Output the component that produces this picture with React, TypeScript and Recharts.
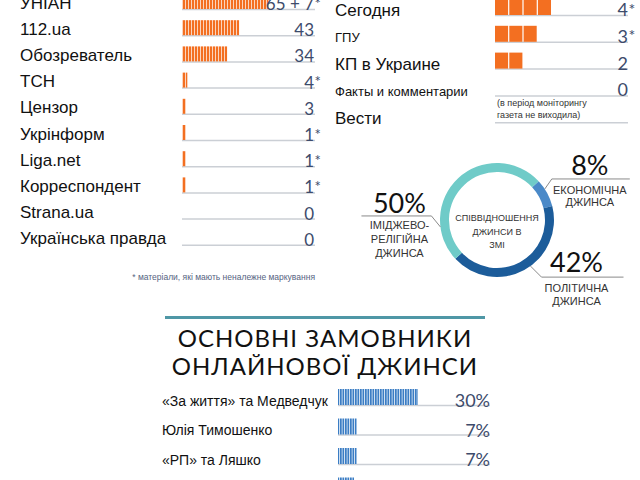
import React from "react";
import { BarChart, Bar, XAxis, YAxis, PieChart, Pie, Cell, LabelList } from "recharts";

const FONT = "'Liberation Sans', Arial, sans-serif";
const NUM_FONT = "Lato, 'Open Sans', sans-serif";
const ORANGE = "#f36f21";
const BLUE = "#3b7dc4";
const SLATE = "#3d4b6b";
const RULE = "#cbcfd5";

// online media: materials found
const onlineOutlets = ["УНІАН", "112.ua", "Обозреватель", "ТСН", "Цензор", "Укрінформ", "Liga.net", "Корреспондент", "Strana.ua", "Українська правда"];
const onlineCounts = [65, 43, 34, 4, 3, 1, 1, 1, 0, 0];
const onlineExtra = [7, 0, 0, 0, 0, 0, 0, 0, 0, 0];
const onlineMarked = [true, false, false, true, false, true, true, true, false, false];

// newspapers (Вести did not come out during monitoring)
const paperNames = ["Сегодня", "ГПУ", "КП в Украине", "Факты и комментарии", "Вести"];
const paperCounts = [4, 3, 2, 0, null];
const paperMarked = [true, true, false, false, false];
const paperNotes = [[], [], [], [], ["(в період моніторингу", "газета не виходила)"]];

// jeans by type
const jeansTypes = ["економічна", "політична", "іміджево-релігійна"];
const jeansShares = [8, 42, 50];
const jeansCaptions = [["ЕКОНОМІЧНА", "ДЖИНСА"], ["ПОЛІТИЧНА", "ДЖИНСА"], ["ІМІДЖЕВО-", "РЕЛІГІЙНА", "ДЖИНСА"]];
const jeansColors = ["#4a89c8", "#1c5c9a", "#6fcbc8"];
const centerCaption = ["СПІВВІДНОШЕННЯ", "ДЖИНСИ В", "ЗМІ"];

// main clients
const clients = ["«За життя» та Медведчук", "Юлія Тимошенко", "«РП» та Ляшко", ""];
const clientShares = [30, 7, 7, 6];

const paperLabelSize: Record<string, number> = { "ГПУ": 13, "Факты и комментарии": 13 };

const onlineData = onlineOutlets.map((name, i) => ({ name, count: onlineCounts[i] }));
const paperData = paperNames.map((name, i) => ({ name, count: paperCounts[i] ?? 0 }));
const jeansData = jeansTypes.map((name, i) => ({ name, value: jeansShares[i] }));
const clientData = clients.map((name, i) => ({ name, share: clientShares[i] }));

const Baseline = (right: number) => (props: any) => {
  const { x, y, height } = props;
  const yy = Number(y) + Number(height) + 0.5;
  return <line x1={x} x2={right} y1={yy} y2={yy} stroke={RULE} strokeWidth={1.5} />;
};

const leftTick = (x: number, dy: number, size: (name: string) => number) => (props: any) => {
  const { y, payload } = props;
  return (
    <text x={x} y={Number(y) + dy} dominantBaseline="central" fontSize={size(payload.value)} fontFamily={FONT} fill="#111">
      {payload.value}
    </text>
  );
};

const valueText = (right: number, dy: number, fontSize: number, getText: (i: number) => string, marked: (i: number) => boolean) =>
  (props: any) => {
    const { y, height, index } = props;
    const cy = Number(y) + Number(height) / 2 + dy;
    const txt = getText(index);
    if (!txt) return null;
    return (
      <g>
        <text x={right} y={cy} textAnchor="end" dominantBaseline="central" fontSize={fontSize} fontFamily={NUM_FONT} fill={SLATE}>
          {txt}
        </text>
        {marked(index) && (
          <text x={right + 0.5} y={cy - 1} dominantBaseline="central" fontSize={fontSize - 2} fontFamily={NUM_FONT} fill={SLATE}>
            *
          </text>
        )}
      </g>
    );
  };

// striped bar; a single item still shows as one visible stripe
const StripeBar = (fill: string, minW: number) => (props: any) => {
  const { x, y, width, height, payload } = props;
  const v = Number(payload?.count ?? payload?.share ?? 0);
  if (!v) return null;
  const w = Math.max(Number(width) || 0, minW);
  return <rect x={x} y={y} width={w} height={height} fill={fill} />;
};

const BlockBar = (props: any) => {
  const { x, y, width, height, payload } = props;
  const n = Number(payload?.count) || 0;
  if (!n || !width) return null;
  const unit = width / n;
  return (
    <g>
      {Array.from({ length: n }, (_, k) => (
        <rect key={k} x={x + k * unit} y={y} width={unit - 1.2} height={height} fill={ORANGE} />
      ))}
    </g>
  );
};

const PaperExtras = (props: any) => {
  const { x, y, height, index } = props;
  const lines = paperNotes[index];
  if (!lines || !lines.length) return null;
  const bottom = Number(y) + Number(height);
  return (
    <g>
      {lines.map((l, k) => (
        <text key={k} x={Number(x) + 2} y={bottom - 19 + k * 11.5} dominantBaseline="central" fontSize={9} fontFamily={FONT} fill="#333">
          {l}
        </text>
      ))}
    </g>
  );
};

const calloutLayout = [
  { angle: 33, elbow: [7, -10], run: 78, textDx: 38, pctDy: -14, capDy: [11, 23] },
  { angle: -54, elbow: [11, 11], run: 82, textDx: 35, pctDy: -16, capDy: [11, 24] },
  { angle: 187, elbow: [-9, -11], run: -70, textDx: -32, pctDy: -13, capDy: [9, 23.5, 37] },
];

const renderCallout = (props: any) => {
  const { cx, cy, outerRadius, index, value } = props;
  const c = calloutLayout[index];
  const a = (c.angle * Math.PI) / 180;
  const sx = cx + outerRadius * Math.cos(a);
  const sy = cy - outerRadius * Math.sin(a);
  const ex = sx + c.elbow[0];
  const ey = sy + c.elbow[1];
  const tx = ex + c.textDx;
  return (
    <g key={`callout-${index}`}>
      {index === 0 &&
        centerCaption.map((l, k) => (
          <text key={`c${k}`} x={cx} y={cy - 2 + k * 13.5} textAnchor="middle" dominantBaseline="central" fontSize={9} fontFamily={FONT} fill="#333">
            {l}
          </text>
        ))}
      <polyline points={`${sx},${sy} ${ex},${ey} ${ex + c.run},${ey}`} fill="none" stroke="#8a8a8a" strokeWidth={1} />
      <text x={tx} y={ey + c.pctDy} textAnchor="middle" dominantBaseline="central" fontSize={27} fontWeight={400} fontFamily={NUM_FONT} fill="#111">
        {`${value}%`}
      </text>
      {jeansCaptions[index].map((line, k) => (
        <text key={k} x={tx} y={ey + c.capDy[k]} textAnchor="middle" dominantBaseline="central" fontSize={11} fontFamily={FONT} fill="#333">
          {line}
        </text>
      ))}
    </g>
  );
};

const abs = (left: number, top: number): React.CSSProperties => ({ position: "absolute", left, top });

const titleLine: React.CSSProperties = {
  position: "absolute",
  left: 150,
  width: 350,
  textAlign: "center",
  fontFamily: NUM_FONT,
  fontWeight: 400,
  fontSize: 24,
  lineHeight: "24px",
  letterSpacing: 1,
  color: "#111",
  whiteSpace: "nowrap",
};

export default function App() {
  return (
    <div style={{ position: "absolute", left: 0, top: 0, width: 640, height: 480, overflow: "hidden", background: "#fff" }}>
      {/* online outlets */}
      <div style={abs(0, -12)}>
        <BarChart width={330} height={262} layout="vertical" data={onlineData} margin={{ top: 0, right: 15, bottom: 0, left: 0 }}>
          <defs>
            <pattern id="orangeStripes" width={3} height={6} patternUnits="userSpaceOnUse">
              <rect x={0} y={0} width={2.3} height={6} fill={ORANGE} />
            </pattern>
          </defs>
          <XAxis type="number" domain={[0, 100]} hide />
          <YAxis type="category" dataKey="name" width={182} axisLine={false} tickLine={false} interval={0} tick={leftTick(20, 2, () => 17)} />
          <Bar
            dataKey="count"
            barSize={15}
            fill="url(#orangeStripes)"
            shape={StripeBar("url(#orangeStripes)", 4)}
            background={Baseline(315)}
            isAnimationActive={false}
          >
            <LabelList
              dataKey="name"
              content={valueText(
                314,
                2,
                17,
                (i) => (onlineExtra[i] ? `${onlineCounts[i]} + ${onlineExtra[i]}` : `${onlineCounts[i]}`),
                (i) => onlineMarked[i]
              )}
            />
          </Bar>
        </BarChart>
      </div>

      <div style={{ ...abs(0, 271), width: 315, textAlign: "right", fontSize: 8.5, lineHeight: "12px", fontFamily: FONT, color: "#55637f" }}>
        * матеріали, які мають неналежне маркування
      </div>

      {/* newspapers */}
      <div style={abs(330, -6)}>
        <BarChart width={310} height={134} layout="vertical" data={paperData} margin={{ top: 0, right: 12, bottom: 0, left: 0 }}>
          <XAxis type="number" domain={[0, 9.3]} hide />
          <YAxis
            type="category"
            dataKey="name"
            width={165}
            axisLine={false}
            tickLine={false}
            interval={0}
            tick={leftTick(5, 3.5, (n) => paperLabelSize[n] ?? 17)}
          />
          <Bar dataKey="count" barSize={16} fill={ORANGE} shape={BlockBar} background={Baseline(298)} isAnimationActive={false}>
            <LabelList
              dataKey="name"
              content={valueText(
                298,
                2,
                18,
                (i) => (paperCounts[i] === null ? "" : `${paperCounts[i]}`),
                (i) => paperMarked[i]
              )}
            />
            <LabelList dataKey="name" content={PaperExtras} />
          </Bar>
        </BarChart>
      </div>

      {/* jeans by type */}
      <div style={abs(330, 140)}>
        <PieChart width={310} height={170}>
          <Pie
            data={jeansData}
            dataKey="value"
            nameKey="name"
            cx={162}
            cy={75}
            innerRadius={48}
            outerRadius={57}
            startAngle={43}
            endAngle={-317}
            stroke="none"
            label={renderCallout}
            labelLine={false}
            isAnimationActive={false}
          >
            {jeansData.map((d, i) => (
              <Cell key={d.name} fill={jeansColors[i]} />
            ))}
          </Pie>
        </PieChart>
      </div>

      {/* main clients */}
      <div style={{ ...abs(165, 316), width: 320, height: 3, background: "#4f97a6" }} />
      <div style={{ ...titleLine, top: 326 }}>ОСНОВНІ ЗАМОВНИКИ</div>
      <div style={{ ...titleLine, top: 354 }}>ОНЛАЙНОВОЇ ДЖИНСИ</div>

      <div style={abs(150, 382)}>
        <BarChart width={350} height={118} layout="vertical" data={clientData} margin={{ top: 0, right: 10, bottom: 0, left: 0 }}>
          <defs>
            <pattern id="blueStripes" width={2.5} height={6} patternUnits="userSpaceOnUse">
              <rect x={0} y={0} width={1.8} height={6} fill={BLUE} />
            </pattern>
          </defs>
          <XAxis type="number" domain={[0, 57]} hide />
          <YAxis type="category" dataKey="name" width={188} axisLine={false} tickLine={false} interval={0} tick={leftTick(12, 4, () => 14)} />
          <Bar dataKey="share" barSize={16} fill="url(#blueStripes)" background={Baseline(340)} isAnimationActive={false}>
            <LabelList
              dataKey="name"
              content={valueText(340, 3, 18, (i) => `${clientShares[i]}%`, () => false)}
            />
          </Bar>
        </BarChart>
      </div>
    </div>
  );
}
